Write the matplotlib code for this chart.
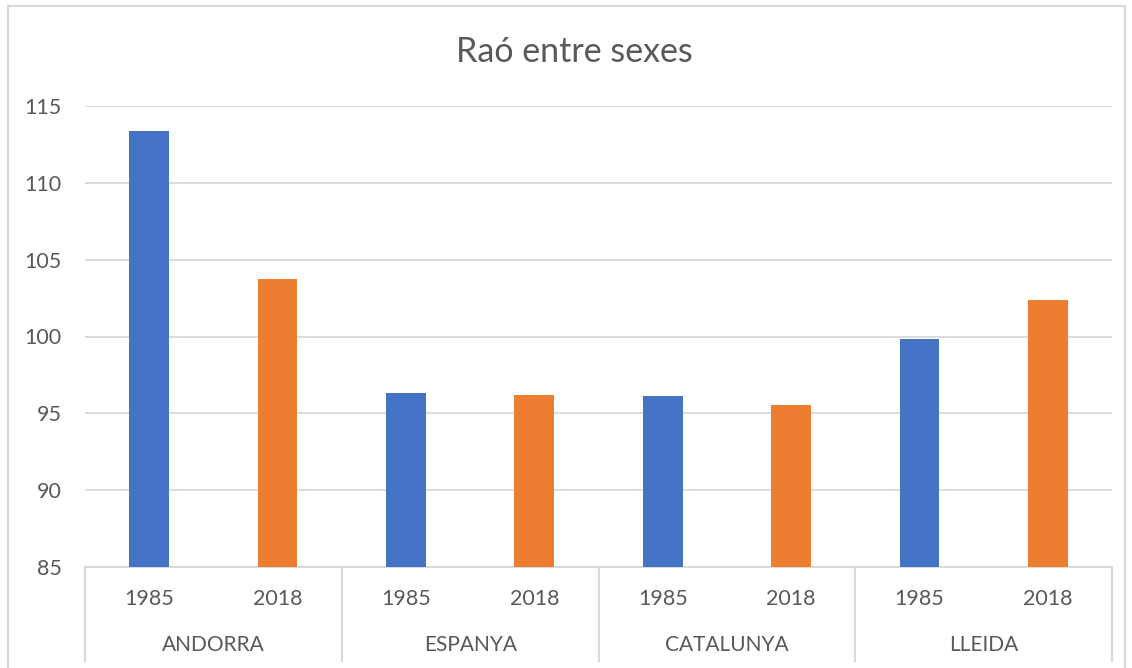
import matplotlib.pyplot as plt
from matplotlib.patches import Rectangle

# data
groups = ['ANDORRA', 'ESPANYA', 'CATALUNYA', 'LLEIDA']
years = ['1985', '2018']
values_1985 = [113.37, 96.33, 96.1, 99.85]
values_2018 = [103.75, 96.2, 95.55, 102.4]

blue = '#4472C4'
orange = '#ED7D31'
grid_col = '#D9D9D9'
text_col = '#595959'

plt.rcParams['font.family'] = ['Lato', 'DejaVu Sans']

fig = plt.figure(figsize=(11.32, 6.68), dpi=100)
ax = fig.add_axes([85 / 1132, 1 - 567 / 668, (1112 - 85) / 1132, (567 - 106) / 668])

# bars: one slot per group/year, 1985 then 2018
xs, heights, colors, labels = [], [], [], []
for i, g in enumerate(groups):
    xs += [2 * i, 2 * i + 1]
    heights += [values_1985[i], values_2018[i]]
    colors += [blue, orange]
    labels += years

ax.bar(xs, [h - 85 for h in heights], bottom=85, width=0.31, color=colors, zorder=3)

ax.set_ylim(85, 115)
ax.set_xlim(-0.5, len(xs) - 0.5)
ax.set_yticks(range(85, 116, 5))
ax.yaxis.grid(True, color=grid_col, linewidth=1.3, zorder=0)
ax.tick_params(axis='y', length=0, pad=17, labelsize=15.5, labelcolor=text_col)
ax.tick_params(axis='x', length=0)
ax.set_xticks([])
for s in ['left', 'right', 'top']:
    ax.spines[s].set_visible(False)
ax.spines['bottom'].set_color(grid_col)
ax.spines['bottom'].set_linewidth(1.5)

# two-level category axis
trans = ax.get_xaxis_transform()
for x, lab in zip(xs, labels):
    ax.text(x, -0.069, lab, transform=trans, ha='center', va='center',
            fontsize=15.5, color=text_col)
for i, g in enumerate(groups):
    ax.text(2 * i + 0.5, -0.169, g, transform=trans, ha='center', va='center',
            fontsize=15, color=text_col)
for k in range(len(groups) + 1):
    ax.plot([2 * k - 0.5] * 2, [0, -0.204], transform=trans, color=grid_col,
            linewidth=1.5, clip_on=False)

fig.text(574 / 1132, 1 - 52 / 668, 'Raó entre sexes', ha='center', va='center',
         fontsize=24.5, color=text_col)

# chart area border
fig.patches.append(Rectangle((8 / 1132, -0.01), 1117 / 1132, 1 - 6 / 668 + 0.01,
                             transform=fig.transFigure, fill=False,
                             edgecolor=grid_col, linewidth=1.5))

fig.savefig('out.png', dpi=100)
